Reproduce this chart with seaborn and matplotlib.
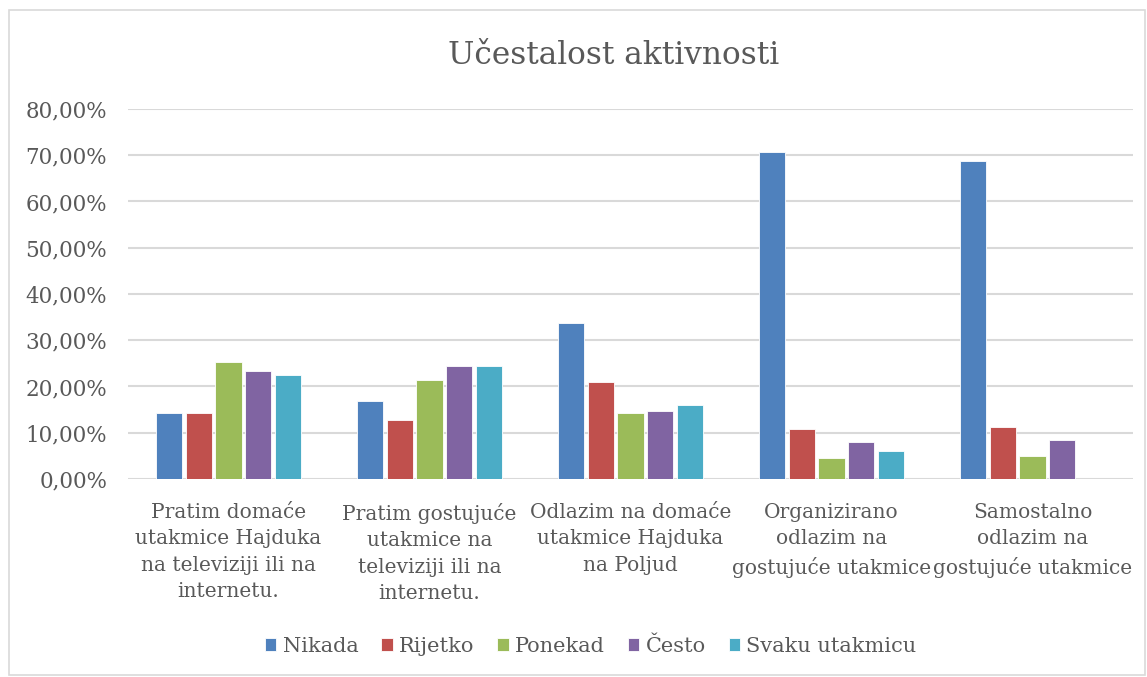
import pandas as pd
import numpy as np
import matplotlib
matplotlib.use("Agg")
import matplotlib.pyplot as plt
from matplotlib.ticker import FuncFormatter
from matplotlib.patches import Rectangle
import seaborn as sns

# podaci
kategorije = [
    "Pratim domaće\nutakmice Hajduka\nna televiziji ili na\ninternetu.",
    "Pratim gostujuće\nutakmice na\ntelevoziji ili na\ninternetu.".replace("televoziji", "televiziji"),
    "Odlazim na domaće\nutakmice Hajduka\nna Poljud",
    "Organizirano\nodlazim na\ngostujuće utakmice",
    "Samostalno\nodlazim na\ngostujuće utakmice",
]
odgovori = ["Nikada", "Rijetko", "Ponekad", "Često", "Svaku utakmicu"]

nikada = [0.143, 0.169, 0.338, 0.706, 0.687]
rijetko = [0.143, 0.128, 0.209, 0.109, 0.113]
ponekad = [0.253, 0.213, 0.143, 0.045, 0.049]
cesto = [0.234, 0.244, 0.148, 0.080, 0.084]
svaku = [0.224, 0.244, 0.159, 0.060, np.nan]

boje = ["#4F81BD", "#C0504D", "#9BBB59", "#8064A2", "#4BACC6"]

# tablica za seaborn
df = pd.DataFrame({
    "Aktivnost": kategorije * 5,
    "Odgovor": [o for o in odgovori for _ in kategorije],
    "Udio": nikada + rijetko + ponekad + cesto + svaku,
})

sns.set_style("white")
plt.rcParams["font.family"] = ["DejaVu Serif"]
tekst = "#595959"

fig = plt.figure(figsize=(11.47, 6.77), dpi=100)
ax = fig.add_axes([0.1116, 0.2925, 0.8762, 0.5465])

sns.barplot(
    data=df,
    x="Aktivnost",
    y="Udio",
    hue="Odgovor",
    hue_order=odgovori,
    order=kategorije,
    palette=boje,
    width=0.74,
    gap=0.12,
    edgecolor="white",
    linewidth=0.6,
    saturation=1,
    ax=ax,
    zorder=3,
)

ax.set_ylim(0, 0.8)
ax.set_yticks(np.arange(0, 0.81, 0.1))
ax.yaxis.set_major_formatter(
    FuncFormatter(lambda v, p: f"{v*100:.2f}%".replace(".", ","))
)
ax.grid(axis="y", color="#D9D9D9", linewidth=1.5, zorder=0)
ax.set_axisbelow(True)
for s in ["top", "right", "left", "bottom"]:
    ax.spines[s].set_visible(False)

ax.set_xlabel("")
ax.set_ylabel("")
ax.tick_params(axis="y", length=0, pad=15, labelsize=15.5, labelcolor=tekst)
ax.tick_params(axis="x", length=0, pad=17, labelsize=14.5, labelcolor=tekst)
for lbl in ax.get_xticklabels():
    lbl.set_linespacing(1.5)

ax.set_xlim(-0.5, 4.5)

fig.text(0.535, 0.918, "Učestalost aktivnosti", ha="center", va="center",
         fontsize=22.5, color=tekst)

leg = ax.legend(
    loc="center",
    bbox_to_anchor=(0.515, 0.046),
    bbox_transform=fig.transFigure,
    ncol=5,
    frameon=False,
    fontsize=15,
    handlelength=0.55,
    handleheight=0.55,
    handletextpad=0.3,
    columnspacing=1.1,
)
for t in leg.get_texts():
    t.set_color(tekst)

# okvir grafikona
fig.patches.append(Rectangle((0.008, 0.003), 0.99, 0.982, transform=fig.transFigure,
                             fill=False, edgecolor="#D9D9D9", linewidth=1.2))

plt.savefig("out.png", dpi=100)
